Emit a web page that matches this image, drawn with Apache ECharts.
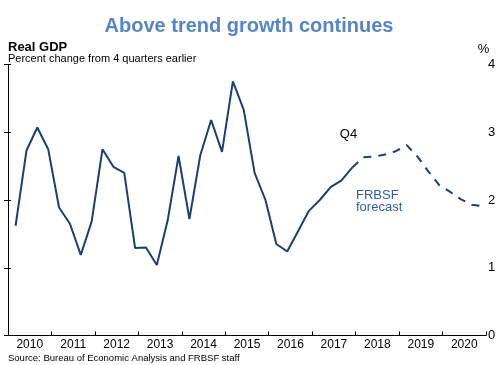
<!DOCTYPE html>
<html><head><meta charset="utf-8">
<script src="https://cdn.jsdelivr.net/npm/echarts@6/dist/echarts.min.js"></script>
<style>html,body{margin:0;padding:0;background:#fff}#c{width:500px;height:365px}</style>
</head><body><div id="c"></div>
<script>
// Year labels (each year = 4 quarters)
const years = ['2010','2011','2012','2013','2014','2015','2016','2017','2018','2019','2020'];
const yTicks = [0, 1, 2, 3, 4];
// Real GDP, percent change from 4 quarters earlier, 2010Q1 - 2017Q4
const history2010 = [1.62, 2.73, 3.07, 2.75];
const history2011 = [1.89, 1.65, 1.19, 1.68];
const history2012 = [2.75, 2.49, 2.40, 1.29];
const history2013 = [1.30, 1.04, 1.70, 2.65];
const history2014 = [1.72, 2.66, 3.18, 2.71];
const history2015 = [3.75, 3.33, 2.40, 2.00];
const history2016 = [1.35, 1.24, 1.54, 1.84];
const history2017 = [2.00, 2.19, 2.29, 2.48];
// FRBSF forecast, 2017Q4 - 2020Q4
const forecast = [2.48, 2.63, 2.64, 2.67, 2.72, 2.81, 2.64, 2.42, 2.22, 2.12, 2.01, 1.93, 1.91];
const forecastStartIndex = 31; // 2017Q4

const history = [].concat(history2010, history2011, history2012, history2013,
  history2014, history2015, history2016, history2017);
const pos = 0.7; // position of a quarter's point within its slot
const histData = history.map((v, i) => [i + pos, v]);
const fcData = forecast.map((v, i) => [forecastStartIndex + i + pos, v]);

const FONT = '"Liberation Sans", Arial, sans-serif';
const LINE = '#1C3F73';

const chart = echarts.init(document.getElementById('c'), null, {renderer: 'canvas'});
chart.setOption({
  animation: false,
  backgroundColor: '#fff',
  textStyle: {fontFamily: FONT},
  grid: {left: 8, right: 14, top: 64.5, bottom: 29.5, containLabel: false},
  xAxis: [{
    type: 'value', min: 0, max: years.length * 4, interval: 4,
    axisLine: {show: true, lineStyle: {color: '#000', width: 1}},
    axisTick: {show: true, inside: true, length: 4, lineStyle: {color: '#000'}},
    axisLabel: {show: false}, splitLine: {show: false}
  }, {
    type: 'category', data: years, position: 'bottom', boundaryGap: true,
    axisLine: {show: false}, axisTick: {show: false}, splitLine: {show: false},
    axisLabel: {color: '#000', fontSize: 12, margin: 3, fontFamily: FONT}
  }],
  yAxis: [{
    type: 'value', position: 'right', min: yTicks[0], max: yTicks[yTicks.length - 1], interval: 1,
    axisLine: {show: true, lineStyle: {color: '#000', width: 1}},
    axisTick: {show: true, inside: true, length: 4, lineStyle: {color: '#000'}},
    axisLabel: {color: '#000', fontSize: 13, margin: 2, fontFamily: FONT},
    splitLine: {show: false}
  }, {
    type: 'value', position: 'left', min: yTicks[0], max: yTicks[yTicks.length - 1], interval: 1,
    axisLine: {show: true, lineStyle: {color: '#000', width: 1}},
    axisTick: {show: true, inside: true, length: 3, lineStyle: {color: '#000'}},
    axisLabel: {show: false}, splitLine: {show: false}
  }],
  series: [{
    type: 'line', xAxisIndex: 0, yAxisIndex: 0, data: histData,
    showSymbol: false, symbol: 'none',
    lineStyle: {color: LINE, width: 2}
  }, {
    type: 'line', xAxisIndex: 0, yAxisIndex: 0, data: fcData,
    showSymbol: false, symbol: 'none',
    lineStyle: {color: LINE, width: 2, type: [8, 7]}
  }],
  graphic: [
    {type: 'text', x: 249, y: 26.4, style: {text: 'Above trend growth continues', fill: '#5585C8',
      font: 'bold 20px ' + FONT, textAlign: 'center', textVerticalAlign: 'middle', align: 'center', verticalAlign: 'middle'}},
    {type: 'text', x: 8, y: 47.8, style: {text: 'Real GDP', fill: '#000',
      font: 'bold 13px ' + FONT, textAlign: 'left', textVerticalAlign: 'middle', align: 'left', verticalAlign: 'middle'}},
    {type: 'text', x: 8, y: 58.9, style: {text: 'Percent change from 4 quarters earlier', fill: '#000',
      font: '11px ' + FONT, textAlign: 'left', textVerticalAlign: 'middle', align: 'left', verticalAlign: 'middle'}},
    {type: 'text', x: 483.5, y: 49.8, style: {text: '%', fill: '#000',
      font: '13px ' + FONT, textAlign: 'center', textVerticalAlign: 'middle', align: 'center', verticalAlign: 'middle'}},
    {type: 'text', x: 348.5, y: 134.8, style: {text: 'Q4', fill: '#000',
      font: '13px ' + FONT, textAlign: 'center', textVerticalAlign: 'middle', align: 'center', verticalAlign: 'middle'}},
    {type: 'text', x: 356, y: 195.2, style: {text: 'FRBSF', fill: '#3160A8',
      font: '13px ' + FONT, textAlign: 'left', textVerticalAlign: 'middle', align: 'left', verticalAlign: 'middle'}},
    {type: 'text', x: 356, y: 207.2, style: {text: 'forecast', fill: '#3160A8',
      font: '13px ' + FONT, textAlign: 'left', textVerticalAlign: 'middle', align: 'left', verticalAlign: 'middle'}},
    {type: 'text', x: 8, y: 358.4, style: {text: 'Source: Bureau of Economic Analysis and FRBSF staff', fill: '#000',
      font: '9.5px ' + FONT, textAlign: 'left', textVerticalAlign: 'middle', align: 'left', verticalAlign: 'middle'}}
  ]
});
</script>
</body></html>
